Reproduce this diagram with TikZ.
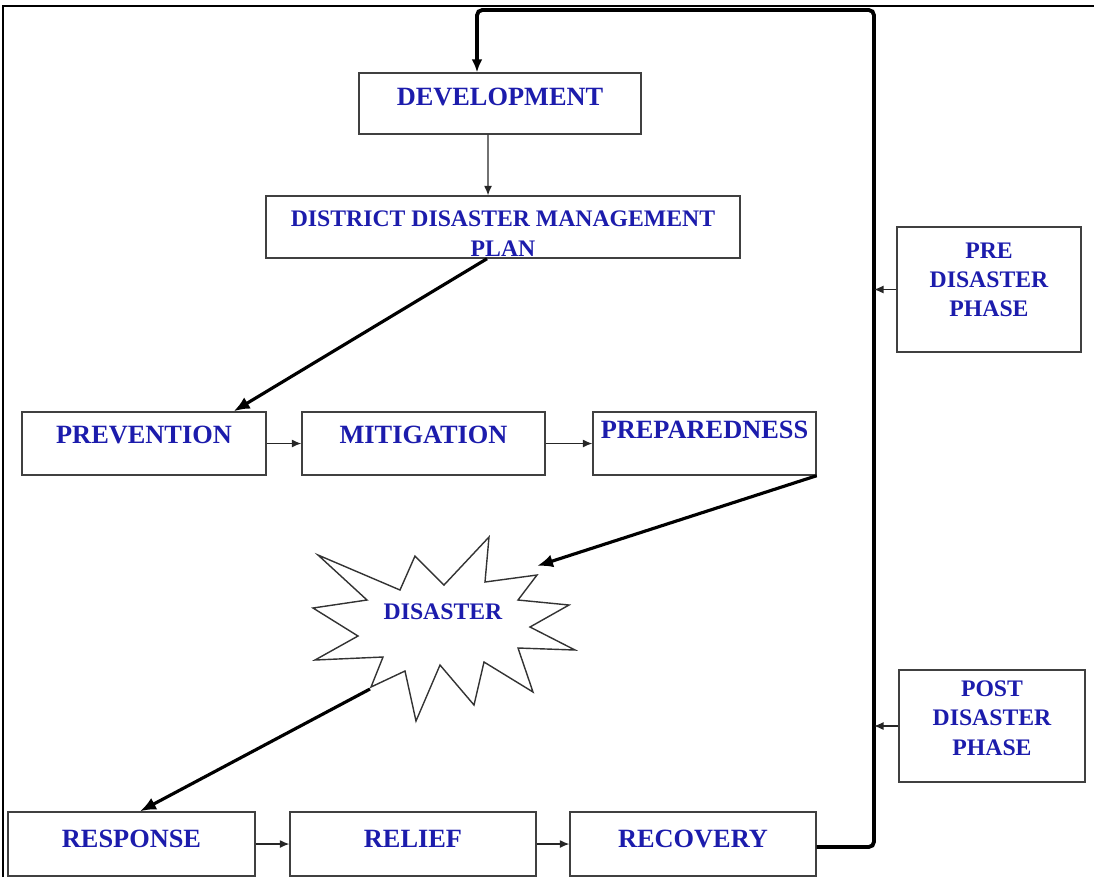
\documentclass[tikz,border=0pt]{standalone}
\usepackage{fontspec}
\setmainfont{Liberation Serif}
\usetikzlibrary{arrows.meta,positioning}
\definecolor{phaseblue}{RGB}{28,28,172}

\tikzset{
  phasebox/.style 2 args={draw=black!75, line width=0.8pt, minimum width=#1, minimum height=#2,
    inner sep=0pt, text=phaseblue, font=\bfseries\fontsize{15pt}{18pt}\selectfont, text depth=9pt},
  smalltext/.style={font=\bfseries\fontsize{13.5pt}{16.5pt}\selectfont, align=center},
  thinarrow/.style={draw=black!85, line width=0.7pt, -{Latex[length=1.9mm,width=1.6mm]}},
  thickarrow/.style={draw=black, line width=1.8pt, -{Latex[length=3.2mm,width=2.6mm]}},
  loopline/.style={draw=black, line width=2.2pt},
  starline/.style={draw=black!80, line width=0.8pt, line join=miter},
}

\begin{document}
\begin{tikzpicture}[x=0.02cm,y=-0.02cm]
  \useasboundingbox (0,0) rectangle (1094,877);
% outer frame
  \draw[line width=1.2pt] (3,877) -- (3,6) -- (1094,6);

% top of the cycle
  \node[phasebox={5.64cm}{1.22cm}, text depth=8pt] (dev) at (500,103.5) {DEVELOPMENT};
  \node[phasebox={9.48cm}{1.24cm}, font=\bfseries\fontsize{13.5pt}{17pt}\selectfont, text depth=0pt] (ddmp) at (503,227)
       {\raisebox{-8.2pt}[0pt][0pt]{\begin{tabular}{@{}c@{}}DISTRICT DISASTER MANAGEMENT\\PLAN\end{tabular}}};

% pre disaster row
  \node[phasebox={4.88cm}{1.26cm}, text depth=10pt] (prev) at (144,443.5) {PREVENTION};
  \node[phasebox={4.86cm}{1.26cm}, text depth=10pt] (miti) at (423.5,443.5) {MITIGATION};
  \node[phasebox={4.46cm}{1.26cm}, text depth=16pt] (prep) at (704.5,443.5) {PREPAREDNESS};

% the disaster itself
  \draw[starline] (318,555) -- (400,590) -- (415,556) -- (444,585) -- (489,537) -- (485,582)
     -- (537,575) -- (518,600) -- (569,605) -- (530,627) -- (575,650) -- (518,648)
     -- (533,692) -- (484,662) -- (474,705) -- (440,665) -- (416,721) -- (405,671)
     -- (371,687) -- (383,657) -- (315,660) -- (358,636) -- (313,608) -- (367,600) -- cycle;
  \node[text=phaseblue, font=\bfseries\fontsize{13.5pt}{16pt}\selectfont] (disaster) at (443,612) {DISASTER};
  \coordinate (starNE) at (537,566);
  \coordinate (starSW) at (370,689);

% post disaster row
  \node[phasebox={4.94cm}{1.28cm}, text depth=6pt] (resp) at (131.5,844) {RESPONSE};
  \node[phasebox={4.92cm}{1.28cm}, text depth=6pt] (reli) at (413,844) {RELIEF};
  \node[phasebox={4.92cm}{1.28cm}, text depth=6pt] (reco) at (693,844) {RECOVERY};

% phase labels at right
  \node[phasebox={3.68cm}{2.5cm}, smalltext, text depth=11pt] (pre) at (989,289.5) {PRE\\DISASTER\\PHASE};
  \node[phasebox={3.72cm}{2.24cm}, smalltext] (post) at (992,726)
       {POST\\[0.5pt]DISASTER\\[0.5pt]PHASE\rule[-2pt]{0pt}{0pt}};

% connectors
  \coordinate (loopR) at (874,10);
  \coordinate (loopL) at (477,10);
  \draw[loopline, rounded corners=3pt, -{Latex[length=2.6mm,width=2.2mm]}]
       ([yshift=-0.06cm]reco.east) -| (loopR) -| (dev.north -| loopL);
  \draw[thinarrow] ([xshift=-0.24cm]dev.south) -- ([xshift=-0.3cm]ddmp.north);
  \draw[thickarrow] ([xshift=-0.32cm]ddmp.south) -- ([xshift=-0.66cm]prev.north east);
  \draw[thinarrow] (prev.east) -- (miti.west);
  \draw[thinarrow] (miti.east) -- (prep.west);
  \draw[thickarrow] (prep.south east) -- (starNE);
  \draw[thickarrow] (starSW) -- ([xshift=0.17cm]resp.north);
  \draw[thinarrow] (resp.east) -- (reli.west);
  \draw[thinarrow] (reli.east) -- (reco.west);
  \draw[thinarrow] (pre.west) -- (pre.west -| loopR);
  \draw[thinarrow] (post.west) -- (post.west -| loopR);

\end{tikzpicture}
\end{document}
